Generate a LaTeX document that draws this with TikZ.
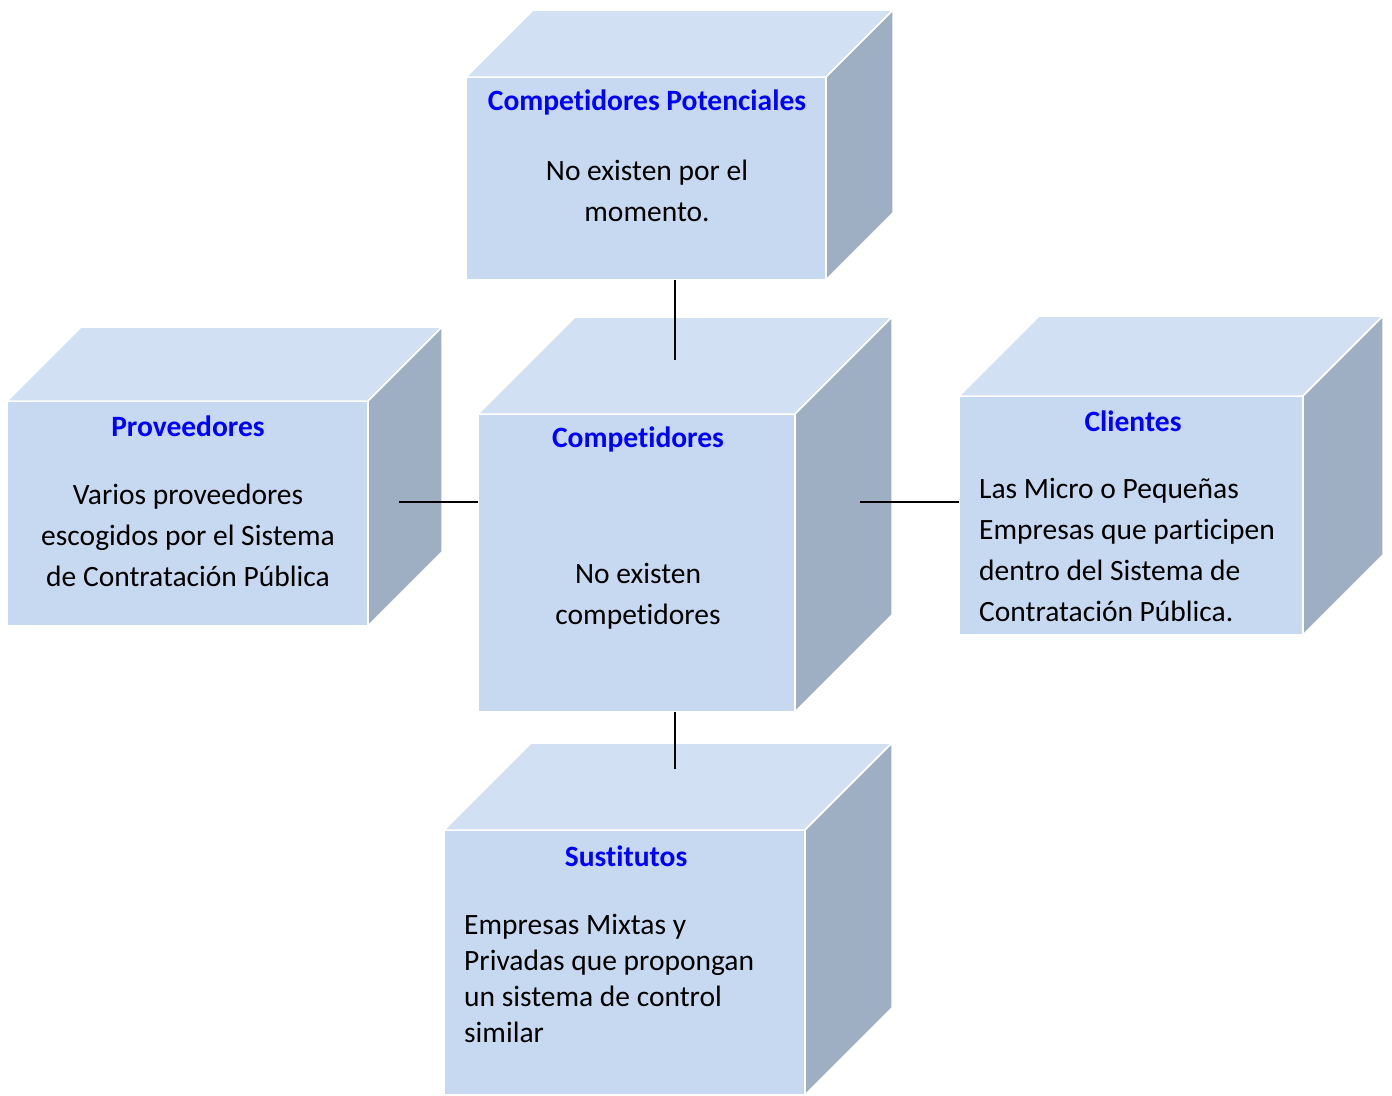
\documentclass[tikz,border=0pt]{standalone}
\usepackage{fontspec}
\setmainfont{Carlito}[Ligatures={NoCommon}]
\definecolor{frontc}{HTML}{C6D9F1}
\definecolor{topc}{HTML}{D1E1F3}
\definecolor{sidec}{HTML}{9EAFC3}
\definecolor{titc}{HTML}{0000FF}
\tikzset{
  front/.style={rectangle, fill=frontc, draw=white, line width=1.5pt, inner sep=0pt, outer sep=0pt},
  topf/.style={fill=topc, draw=white, line width=1.5pt, line join=round},
  sidef/.style={fill=sidec, draw=white, line width=1.5pt, line join=round},
  title/.style={font=\fontsize{29.5}{34}\selectfont\bfseries, text=titc, inner sep=0pt},
  body/.style={font=\fontsize{29.5}{41}\selectfont, text=black, inner sep=0pt},
  conn/.style={draw=black, line width=1.6pt}
}
\newcommand\mycube[6]{%
  \node[front, minimum width={#4pt-#2pt}, minimum height={#5pt-#3pt}] (#1) at ({(#2+#4)/2},{(#3+#5)/2}) {};
  \path[topf] (#1.north west) -- ++(#6,-#6) -- ++({#4-#2},0) -- (#1.north east) -- cycle;
  \path[sidef] (#1.north east) -- ++(#6,-#6) -- ++(0,{#5-#3}) -- (#1.south east) -- cycle;
}
\begin{document}
\begin{tikzpicture}[x=1pt,y=-1pt]
\useasboundingbox (0,0) rectangle (1392,1095);
\fill[white] (0,0) rectangle (1392,1095);

\mycube{cp}{466}{77}{826}{280}{67}
\mycube{prov}{7}{401}{368}{626}{74}
\mycube{comp}{478}{414}{795}{712}{97}
\mycube{cli}{959}{396}{1303}{635}{80}
\mycube{sust}{444}{830}{805}{1095}{87}

% texts
\node[title] (cpt) at (647,102) {Competidores Potenciales};
\node[body, align=center] (cpb) at (647,191) {No existen por el\\momento.};

\node[title] (provt) at (188,426) {Proveedores};
\node[body, align=center] (provb) at (188,535) {Varios proveedores\\escogidos por el Sistema\\de Contratación Pública};

\node[title] (compt) at (638,439) {Competidores};
\node[body, align=center] (compb) at (638,596) {No existen\\competidores};

\node[title] (clit) at (1133,421) {Clientes};
\node[body, align=left, anchor=west] (clib) at (979,550) {Las Micro o Pequeñas\\Empresas que participen\\dentro del Sistema de\\Contratación Pública.};

\node[title] (sustt) at (626,856) {Sustitutos};
\node[body, align=left, anchor=west, font=\fontsize{29.5}{36}\selectfont] (sustb) at (464,978) {Empresas Mixtas y\\Privadas que propongan\\un sistema de control\\similar};

% connectors
\coordinate (c1) at (675,360);
\coordinate (c2) at (399,502);
\coordinate (c3) at (860,502);
\coordinate (c4) at (675,769);
\draw[conn] (cp.south -| c1) -- (c1);
\draw[conn] (c2) -- (c2 -| comp.west);
\draw[conn] (c3) -- (c3 -| cli.west);
\draw[conn] (comp.south -| c4) -- (c4);
\end{tikzpicture}
\end{document}
